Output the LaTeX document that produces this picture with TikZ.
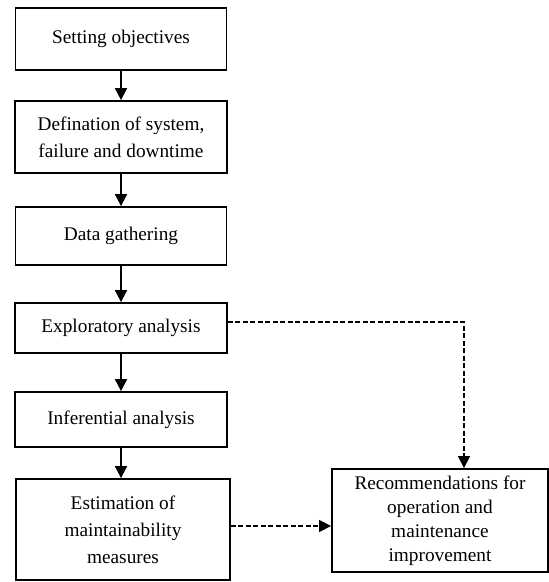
\documentclass[tikz,border=0pt]{standalone}
\usepackage{fontspec}
\setmainfont{Liberation Serif}
\usetikzlibrary{arrows.meta}
\begin{document}
\begin{tikzpicture}[x=1pt,y=-1pt,
 box/.style={draw, line width=1.8pt, inner sep=0pt, align=center, font=\fontsize{19.3}{25}\selectfont},
 flow/.style={line width=1.8pt, -{Triangle[width=12pt,length=12pt]}},
 dflow/.style={line width=1.5pt, dash pattern=on 5pt off 2.5pt, -{Triangle[width=12pt,length=12pt]}}]
\useasboundingbox (0,0) rectangle (549,582);
\node[box, minimum width=211pt, minimum height=62pt] (b1) at (121,39) {Setting objectives};
\node[box, minimum width=212pt, minimum height=72pt, font=\fontsize{19.3}{27}\selectfont] (b2) at (121,137) {Defination of system,\\failure and downtime};
\node[box, minimum width=211pt, minimum height=58pt] (b3) at (121,236) {Data gathering};
\node[box, minimum width=212pt, minimum height=50pt] (b4) at (121,328) {Exploratory analysis};
\node[box, minimum width=212pt, minimum height=55pt] (b5) at (121,419.5) {Inferential analysis};
\node[box, minimum width=214pt, minimum height=101pt, font=\fontsize{19.3}{27}\selectfont] (b6) at (123,529.5) {Estimation of\\maintainability\\measures};
\node[box, minimum width=216pt, minimum height=103pt, font=\fontsize{19.3}{24}\selectfont] (b7) at (440,520.5) {Recommendations for\\operation and\\maintenance\\improvement};
\draw[flow] (b1) -- (b2);
\draw[flow] (b2) -- (b3);
\draw[flow] (b3) -- (b4);
\draw[flow] (b4) -- (b5);
\draw[flow] (b5.south) -- (b5.south |- b6.north);
\draw[dflow] ([yshift=6pt]b4.east) -| ([xshift=24pt]b7.north);
\draw[dflow] ([yshift=3.5pt]b6.east) -- ([yshift=3.5pt]b6.east -| b7.west);
\end{tikzpicture}
\end{document}
